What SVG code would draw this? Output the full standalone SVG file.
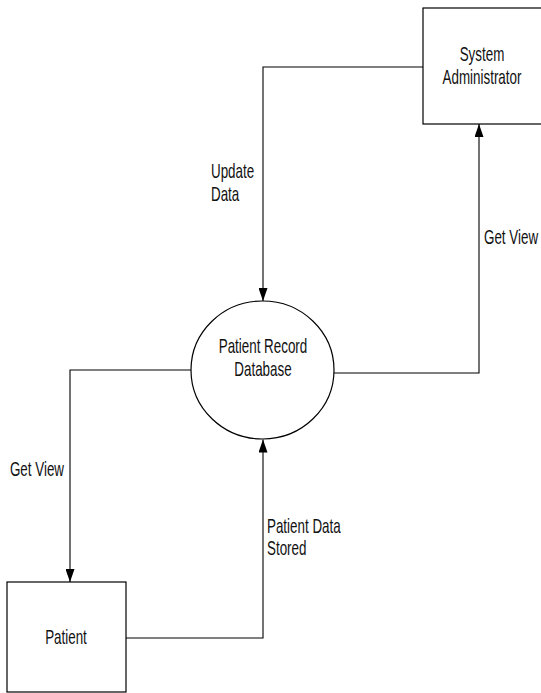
<svg xmlns="http://www.w3.org/2000/svg" width="541" height="693" viewBox="0 0 541 693">
<defs>
<style>
.shape{fill:#fff;stroke:#000;stroke-width:1.2}
.conn{fill:none;stroke:#000;stroke-width:1.1}
.t{font-family:"Liberation Sans",Arial,sans-serif;font-size:13.4px;fill:#111}
.m{text-anchor:middle}
.e{text-anchor:end}
</style>
<marker id="arr" markerUnits="userSpaceOnUse" markerWidth="13" markerHeight="9" viewBox="0 0 13 9" refX="13" refY="4.5" orient="auto">
<path d="M0,0 L13,4.5 L0,9 z" fill="#000"/>
</marker>
</defs>
<rect width="541" height="693" fill="#fff"/>
<g id="connectors">
<path class="conn" d="M423,67 H263 V301" marker-end="url(#arr)"/>
<path class="conn" d="M334,373 H479 V124" marker-end="url(#arr)"/>
<path class="conn" d="M191,370 H70 V582" marker-end="url(#arr)"/>
<path class="conn" d="M126,638 H263 V439.5" marker-end="url(#arr)"/>
<text class="t" transform="translate(211,178) scale(1,1.45)">Update<tspan x="0" dy="16">Data</tspan></text>
<text class="t" transform="translate(484,244) scale(1,1.45)">Get View</text>
<text class="t e" transform="translate(64,476) scale(1,1.45)">Get View</text>
<text class="t" transform="translate(267,533) scale(1,1.45)">Patient Data<tspan x="0" dy="15.2">Stored</tspan></text>
</g>
<g id="sysadmin">
<rect class="shape" x="423" y="8" width="120" height="116"/>
<text class="t m" transform="translate(482,61) scale(1,1.45)">System<tspan x="0" dy="15.9">Administrator</tspan></text>
</g>
<g id="database">
<ellipse class="shape" cx="262.5" cy="370" rx="71.5" ry="69"/>
<text class="t m" transform="translate(263,353) scale(1,1.45)">Patient Record<tspan x="0" dy="15.9">Database</tspan></text>
</g>
<g id="patient">
<rect class="shape" x="7" y="582" width="119" height="110"/>
<text class="t m" transform="translate(66,644) scale(1,1.45)">Patient</text>
</g>
</svg>
